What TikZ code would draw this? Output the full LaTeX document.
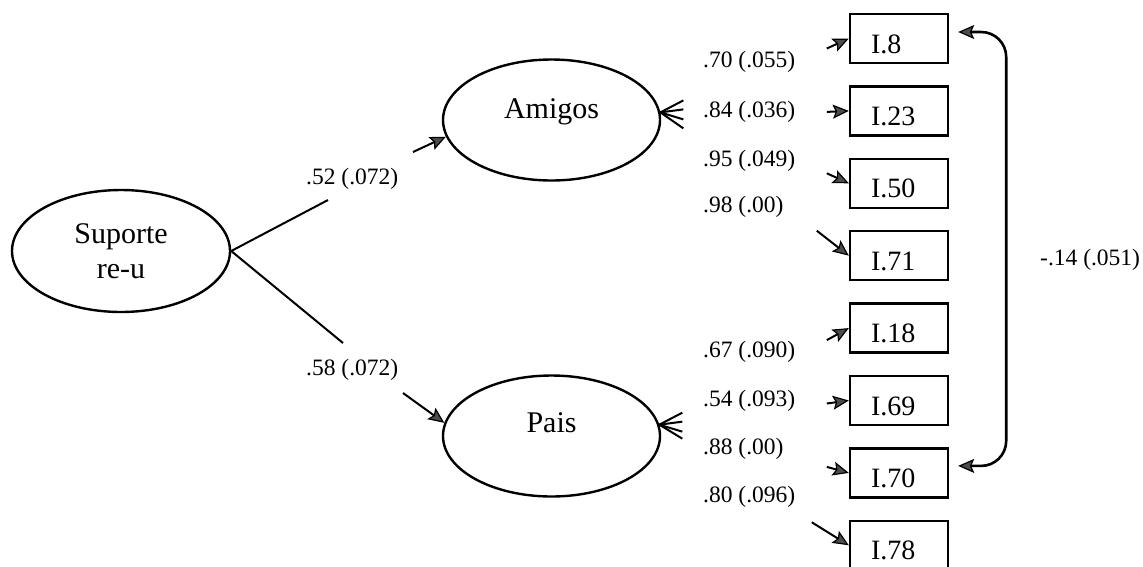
\documentclass[tikz,border=0pt]{standalone}
\usepackage{fontspec}
\setmainfont{Liberation Serif}
\usetikzlibrary{arrows.meta,shapes.geometric,calc}
\tikzset{head/.tip={Stealth[length=16pt,width=14pt,inset=3pt,fill=black!70,line width=1.2pt]}}
\begin{document}
\begin{tikzpicture}[x=1pt,y=-1pt,
  every node/.style={inner sep=0pt},
  latent/.style={draw, ellipse, line width=2.4pt, minimum width=217pt,
    minimum height=121pt, font=\fontsize{30}{35}\selectfont, align=center},
  item/.style={draw, rectangle, line width=2.4pt, minimum width=98pt,
    minimum height=49pt, text width=56pt, inner xsep=21pt, inner ysep=10pt,
    text height=29pt, text depth=0pt, font=\fontsize{28}{30}\selectfont, align=left},
  coef/.style={anchor=west, font=\fontsize{23.5}{26}\selectfont},
  link/.style={line width=2pt},
  tip/.style={line width=2pt, -{head}},
  cov/.style={line width=2.6pt, rounded corners=25pt, {head}-{head}},
]
\useasboundingbox (0,0) rectangle (1143,566);

% latent variables
\node[latent, minimum width=218pt, minimum height=122pt] (sup) at (121,251) {Suporte\\re-u};
\node[latent, text height=20pt, text depth=24pt] (ami) at (551.5,120) {Amigos};
\node[latent, text height=20pt, text depth=28pt] (pai) at (551.5,436) {Pais};

% observed items
\foreach \nm/\txt [count=\k from 0] in {i8/I.8, i23/I.23, i50/I.50, i71/I.71,
    i18/I.18, i69/I.69, i70/I.70, i78/I.78}
  \node[item] (\nm) at (899,38.5+72.4*\k) {\txt};

% second-order paths, broken by their coefficients
\coordinate (a1) at (328,200);
\coordinate (a2) at (413,152);
\coordinate (b1) at (343,343);
\coordinate (b2) at (403,393);
\draw[link] (sup.east) -- (a1);
\draw[tip] (a2) -- (ami.189);
\draw[link] (sup.east) -- (b1);
\draw[tip] (b2) -- (pai.173);
\node[coef] (l52) at (306,179) {.52 (.072)};
\node[coef] (l58) at (306,370) {.58 (.072)};

% loading fans at the factors
\coordinate (fa) at (ami.4);
\coordinate (fp) at (pai.6);
\foreach \dy in {-12,-3,7,16}
  \draw[link] (fa) -- ++(23,\dy);
\foreach \dy in {-12,-3,7,14}
  \draw[link] (fp) -- ++(23,\dy);

% loadings
\node[coef] (l70) at (703,62) {.70 (.055)};
\node[coef] (l84) at (703,112) {.84 (.036)};
\node[coef] (l95) at (703,161) {.95 (.049)};
\node[coef] (l98) at (703,207) {.98 (.00)};
\node[coef] (l67) at (703,352) {.67 (.090)};
\node[coef] (l54) at (703,401) {.54 (.093)};
\node[coef] (l88) at (703,449) {.88 (.00)};
\node[coef] (l80) at (703,497) {.80 (.096)};

% arrows into the items
\draw[tip] ($(i8.west)+(-22,10)$) -- (i8.west);
\draw[tip] ($(i23.west)+(-22,1)$) -- (i23.west);
\draw[tip] ($(i50.west)+(-22,-10)$) -- (i50.west);
\draw[tip] ($(i71.west)+(-32,-25)$) -- (i71.west);
\draw[tip] ($(i18.west)+(-22,12)$) -- (i18.west);
\draw[tip] ($(i69.west)+(-22,3)$) -- (i69.west);
\draw[tip] ($(i70.west)+(-22,-6)$) -- (i70.west);
\draw[tip] ($(i78.west)+(-37,-23)$) -- (i78.west);

% error covariance between I.8 and I.70
\draw[cov] ([xshift=9pt,yshift=6.5pt]i8.east) -- ++(48,0) |- ([xshift=9pt,yshift=7pt]i70.east);
\node[coef] (lcov) at (1040,260) {-.14 (.051)};
\end{tikzpicture}
\end{document}
